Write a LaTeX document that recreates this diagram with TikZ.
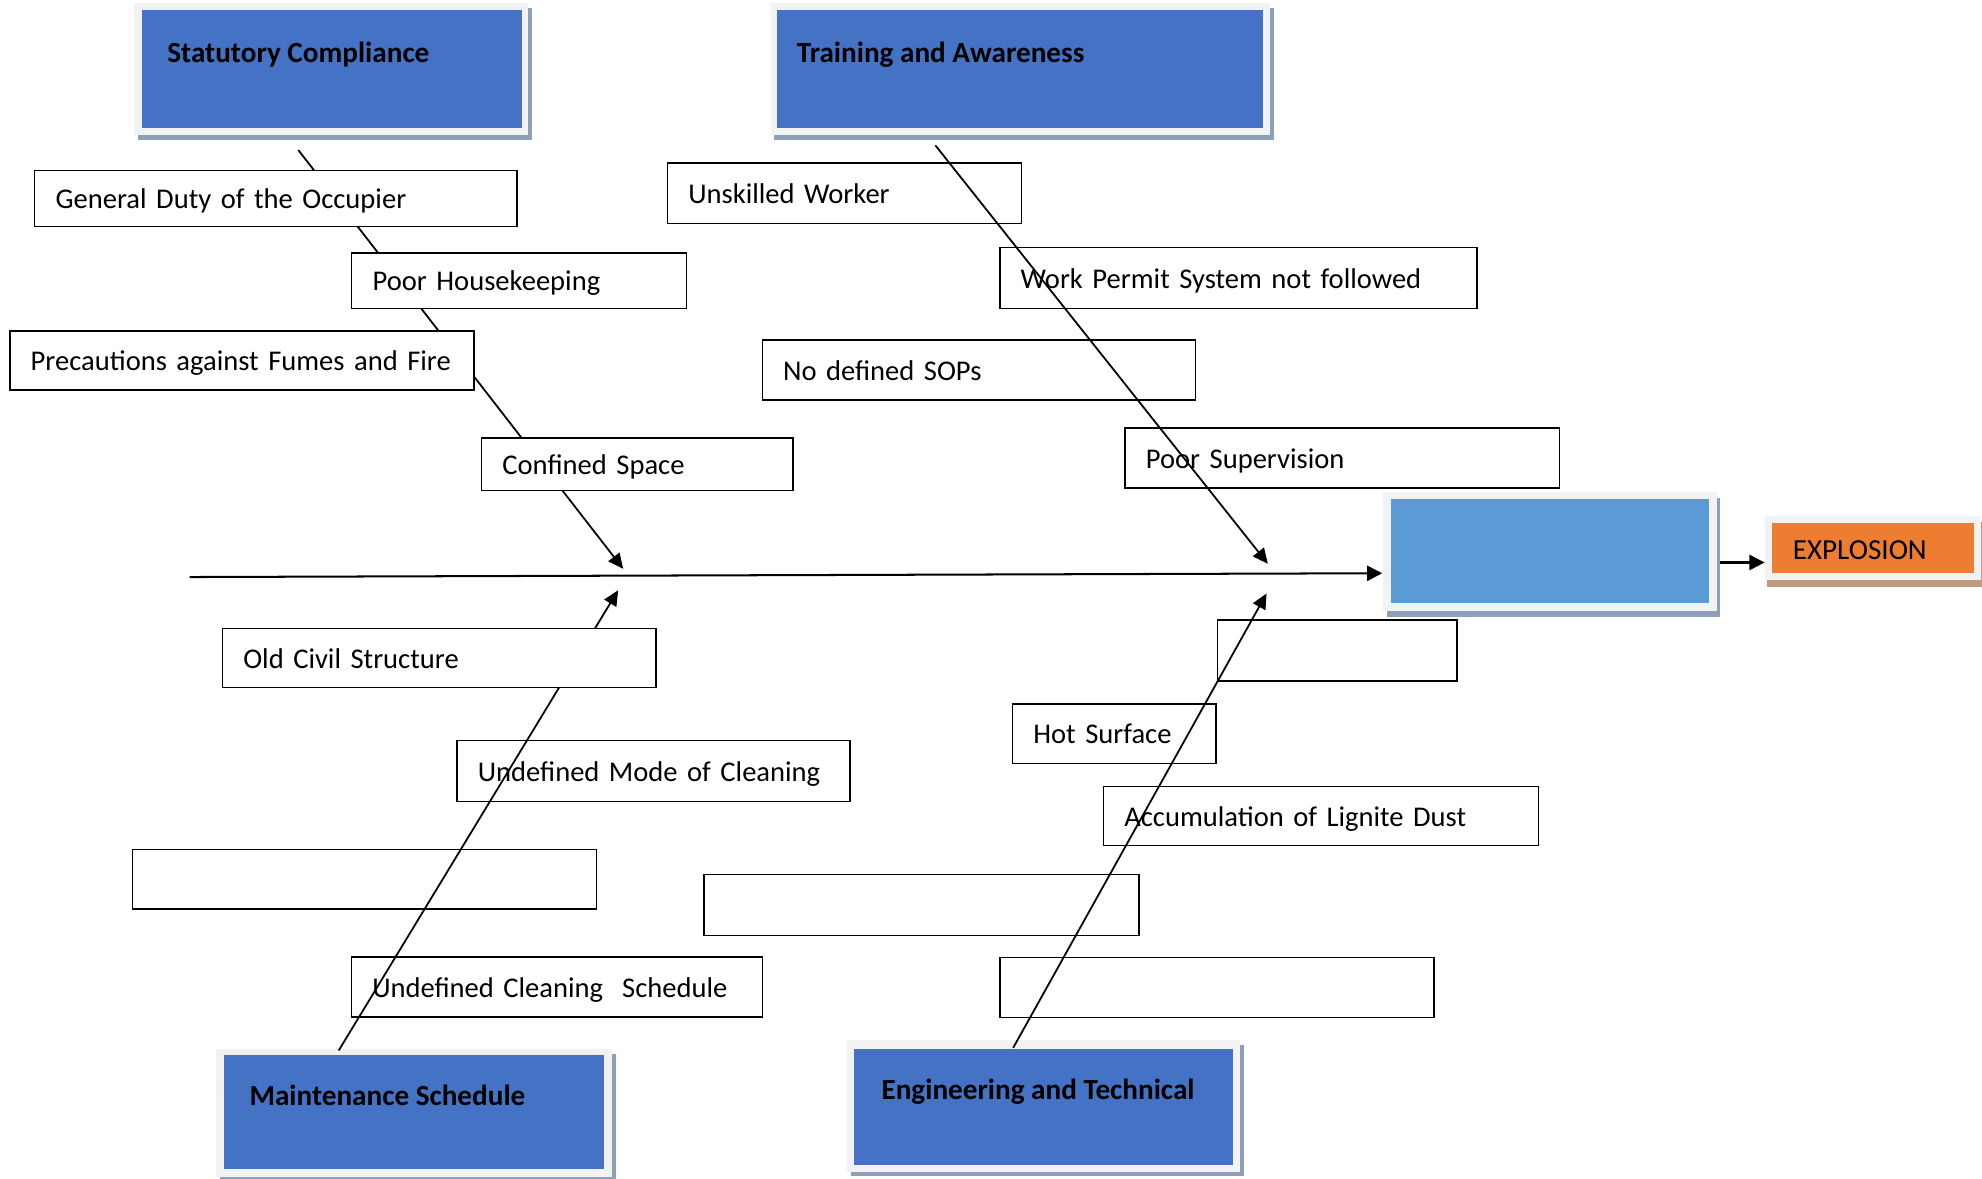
\documentclass[tikz,border=0pt]{standalone}
\usepackage{fontspec}
\setmainfont{Carlito}
\usetikzlibrary{arrows.meta,calc}
\definecolor{catblue}{HTML}{4472C4}
\definecolor{effblue}{HTML}{5B9BD5}
\definecolor{exporange}{HTML}{ED7D31}
\definecolor{framec}{HTML}{F2F2F2}
\definecolor{shadowb}{HTML}{8E9FB8}
\definecolor{shadowo}{HTML}{C19B80}
\tikzset{
  cause/.style={draw=black, fill=white, line width=0.55pt, anchor=north west,
    inner xsep=8.25pt, inner ysep=0pt, outer sep=0pt, align=left,
    font=\fontsize{11.3}{13}\selectfont,
    text height=0.8em, text depth=0pt},
  cattext/.style={anchor=west, inner sep=0pt, font=\fontsize{11.55}{14}\selectfont\bfseries, text height=0.644em, text depth=0pt},
  plaintext/.style={anchor=west, inner sep=0pt, font=\fontsize{11.5}{13}\selectfont, text height=0.644em, text depth=0pt},
  colbox/.style={anchor=north west, inner sep=0pt, outer sep=0pt},
  branch/.style={line width=0.7pt, -{Triangle[length=6pt,width=5.5pt]}},
  spine/.style={line width=0.8pt, -{Triangle[length=6pt,width=6pt]}}
}
\begin{document}
\begin{tikzpicture}[x=0.5pt,y=-0.5pt]
\useasboundingbox[fill=white] (0,0) rectangle (1568,932.7);

% ---------- category boxes ----------
% Statutory Compliance
\fill[shadowb] (109,6.5) rectangle (421,111);
\fill[framec] (106,2.5) rectangle (418,107);
\node[colbox, fill=catblue, minimum width=150.5pt, minimum height=46.5pt] (stat) at (112,8) {};
\node[cattext] (statT) at (132,43) {Statutory Compliance};
% Training and Awareness
\fill[shadowb] (612.6,6.5) rectangle (1008,111);
\fill[framec] (609.6,2.5) rectangle (1005,107);
\node[colbox, fill=catblue, minimum width=192pt, minimum height=46.5pt] (train) at (615,8) {};
\node[cattext] (trainT) at (630,43) {Training and Awareness};
% Maintenance Schedule
\fill[shadowb] (174,834) rectangle (487,935);
\fill[framec] (171,830) rectangle (484,931);
\node[colbox, fill=catblue, minimum width=150.5pt, minimum height=45pt] (maint) at (177,835) {};
\node[cattext] (maintT) at (197,868) {Maintenance Schedule};
% Engineering and Technical
\fill[shadowb] (673,827) rectangle (984,930);
\fill[framec] (670,823) rectangle (981,927);
\node[colbox, fill=catblue, minimum width=149.8pt, minimum height=46.25pt] (eng) at (676,829.5) {};
\node[cattext] (engT) at (697,863) {Engineering and Technical};
% Effect box
\fill[shadowb] (1097,394) rectangle (1361,488);
\fill[framec] (1094,389) rectangle (1358,483);
\node[colbox, fill=effblue, minimum width=125.75pt, minimum height=41pt] (effect) at (1100.5,395) {};
% Explosion
\fill[shadowo] (1398,413) rectangle (1569,464);
\fill[framec] (1396,408) rectangle (1567,459);
\node[colbox, fill=exporange, minimum width=79.75pt, minimum height=19.5pt] (expl) at (1402,414) {};
\node[plaintext] (explT) at (1418,436.5) {EXPLOSION};

% ---------- coordinates for connectors ----------
\coordinate (statS) at (236,118.7);
\coordinate (statE) at (493,450);
\coordinate (trainS) at (740,115);
\coordinate (trainE) at (1003,446);
\coordinate (maintS) at (268,831);
\coordinate (maintE) at (489,467);
\coordinate (engS) at (801.5,829);
\coordinate (engE) at (1002,469.5);
\coordinate (spineS) at (150,456.5);
\coordinate (spineE) at (1093.5,453.5);
\coordinate (effOut) at (1361,445);
\coordinate (explIn) at (1396,445);

% ---------- Statutory branch (under its boxes) ----------
\draw[branch] (statS) -- (statE);
\node[cause, text width=174.25pt, minimum height=22pt] (gen) at (27.5,135) {\mbox{General Duty of the Occupier}};
\node[cause, text width=115.85pt, minimum height=22pt] (hk) at (278.3,200) {\mbox{Poor Housekeeping}};
\node[cause, text width=167.1pt, minimum height=23.25pt] (prec) at (7.8,262) {\mbox{Precautions against Fumes and Fire}};
\node[cause, text width=106.75pt, minimum height=20.7pt] (conf) at (381,346.6) {\mbox{Confined Space}};

% ---------- Training branch (over its boxes) ----------
\node[cause, text width=123.5pt, minimum height=23.85pt] (unsk) at (528,129) {\mbox{Unskilled Worker}};
\node[cause, text width=172.25pt, minimum height=24pt] (wp) at (791,196) {\mbox{Work Permit System not followed}};
\node[cause, text width=154.8pt, minimum height=23.75pt] (sop) at (603,269) {\mbox{No defined SOPs}};
\node[cause, text width=155.3pt, minimum height=23.75pt] (sup) at (890,338.5) {\mbox{Poor Supervision}};
\draw[branch] (trainS) -- (trainE);

% ---------- Maintenance branch ----------
\node[cause, text width=139pt, minimum height=24pt] (mode) at (361.5,586) {\mbox{Undefined Mode of Cleaning}};
\node[cause, text width=167.05pt, minimum height=23.5pt] (e1) at (104.6,672) {};
\node[cause, text width=146pt, minimum height=23.8pt] (sched) at (278,757) {\mbox{Undefined Cleaning~ Schedule}};
\draw[branch] (maintS) -- (maintE);
\node[cause, text width=155pt, minimum height=23.5pt] (old) at (176,497) {\mbox{Old Civil Structure}};

% ---------- Engineering branch (over its boxes) ----------
\node[cause, text width=78.25pt, minimum height=24pt] (e4) at (963,490.6) {};
\node[cause, text width=64pt, minimum height=23.5pt] (hot) at (801,557) {\mbox{Hot Surface}};
\node[cause, text width=155.5pt, minimum height=23.5pt] (acc) at (873,622) {\mbox{Accumulation of Lignite Dust}};
\node[cause, text width=155.5pt, minimum height=24pt] (e2) at (557,692) {};
\node[cause, text width=155.25pt, minimum height=23.65pt] (e3) at (791,757.7) {};
\draw[branch] (engS) -- (engE);

% ---------- spine and effect ----------
\draw[spine] (spineS) -- (spineE);
\draw[spine] (effOut) -- (explIn);
\end{tikzpicture}
\end{document}
